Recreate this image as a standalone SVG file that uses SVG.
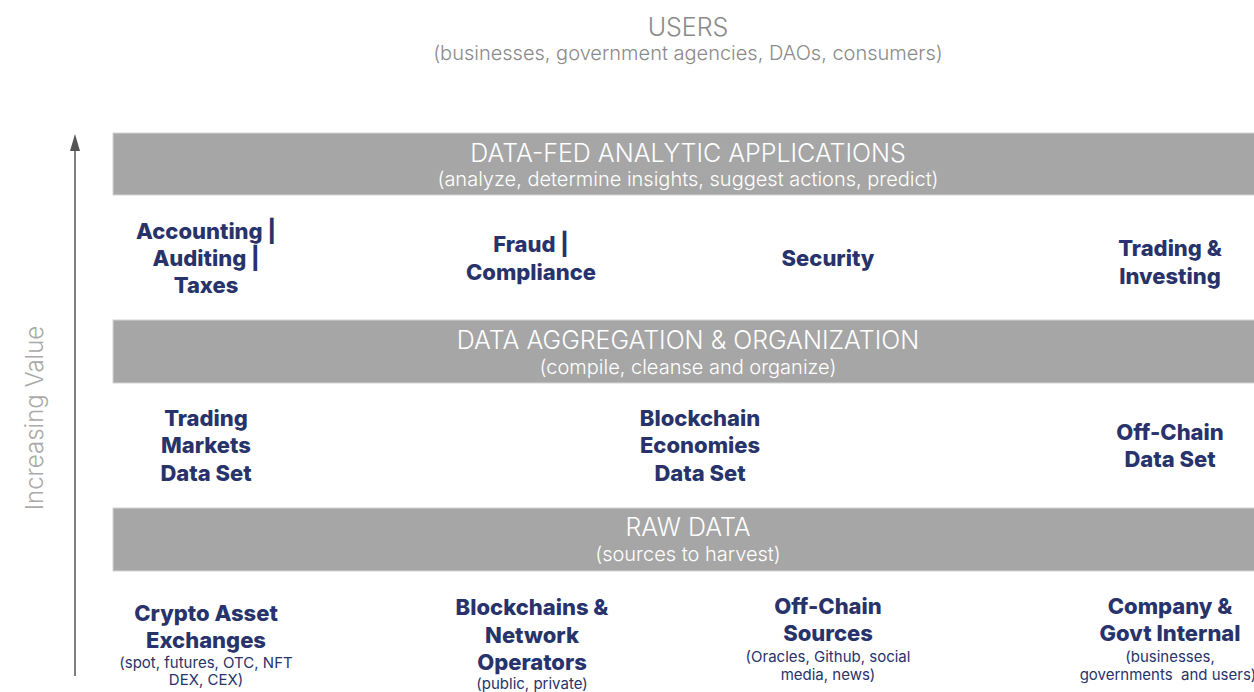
<svg xmlns="http://www.w3.org/2000/svg" width="1254" height="692" viewBox="0 0 1254 692">
<style>
.hd{font-family:Inter,"Liberation Sans",sans-serif;font-weight:300;text-anchor:middle}
.gray{fill:#8a8a8a}
.wt{fill:#ffffff}
.band{fill:#a6a6a6;stroke:#d4d4d4;stroke-width:1}
.nd{font-family:Inter,"Liberation Sans",sans-serif;font-weight:800;font-size:22px;fill:#27336a;text-anchor:middle}
.sm{font-family:Inter,"Liberation Sans",sans-serif;font-weight:400;font-size:15px;fill:#27336a;text-anchor:middle}
</style>
<rect width="1254" height="692" fill="#ffffff"/>
<g id="users">
<text class="hd gray" x="688" y="36" font-size="25">USERS</text>
<text class="hd gray" x="688" y="60" font-size="20">(businesses, government agencies, DAOs, consumers)</text>
</g>
<g id="connectors">
<line x1="75" y1="148" x2="75" y2="676" stroke="#555555" stroke-width="1.5"/>
<polygon points="75,134 70,151 80,151" fill="#555555"/>
</g>
<g id="axis-label">
<text class="hd" fill="#aaaaaa" font-size="24" transform="translate(43,418) rotate(-90)">Increasing Value</text>
</g>
<g id="band-applications">
<rect class="band" x="113" y="133" width="1150" height="62"/>
<text class="hd wt" x="688" y="162" font-size="25">DATA-FED ANALYTIC APPLICATIONS</text>
<text class="hd wt" x="688" y="186" font-size="20">(analyze, determine insights, suggest actions, predict)</text>
</g>
<g id="band-aggregation">
<rect class="band" x="113" y="320" width="1150" height="63"/>
<text class="hd wt" x="688" y="349" font-size="25">DATA AGGREGATION &amp; ORGANIZATION</text>
<text class="hd wt" x="688" y="374" font-size="20">(compile, cleanse and organize)</text>
</g>
<g id="band-raw">
<rect class="band" x="113" y="508" width="1150" height="63"/>
<text class="hd wt" x="688" y="536" font-size="25">RAW DATA</text>
<text class="hd wt" x="688" y="561" font-size="20">(sources to harvest)</text>
</g>
<g id="node-accounting">
<text class="nd" x="206" y="239">Accounting |</text>
<text class="nd" x="206" y="266">Auditing |</text>
<text class="nd" x="206" y="293">Taxes</text>
</g>
<g id="node-fraud">
<text class="nd" x="531" y="252">Fraud |</text>
<text class="nd" x="531" y="280">Compliance</text>
</g>
<g id="node-security">
<text class="nd" x="828" y="266">Security</text>
</g>
<g id="node-trading-investing">
<text class="nd" x="1170" y="256">Trading &amp;</text>
<text class="nd" x="1170" y="284">Investing</text>
</g>
<g id="node-trading-markets">
<text class="nd" x="206" y="426">Trading</text>
<text class="nd" x="206" y="453">Markets</text>
<text class="nd" x="206" y="481">Data Set</text>
</g>
<g id="node-blockchain-economies">
<text class="nd" x="700" y="426">Blockchain</text>
<text class="nd" x="700" y="453">Economies</text>
<text class="nd" x="700" y="481">Data Set</text>
</g>
<g id="node-offchain-data">
<text class="nd" x="1170" y="440">Off-Chain</text>
<text class="nd" x="1170" y="467">Data Set</text>
</g>
<g id="node-crypto-exchanges">
<text class="nd" x="206" y="621">Crypto Asset</text>
<text class="nd" x="206" y="648">Exchanges</text>
<text class="sm" x="206" y="668">(spot, futures, OTC, NFT</text>
<text class="sm" x="206" y="685">DEX, CEX)</text>
</g>
<g id="node-blockchains">
<text class="nd" x="532" y="615">Blockchains &amp;</text>
<text class="nd" x="532" y="643">Network</text>
<text class="nd" x="532" y="670">Operators</text>
<text class="sm" x="532" y="689">(public, private)</text>
</g>
<g id="node-offchain-sources">
<text class="nd" x="828" y="614">Off-Chain</text>
<text class="nd" x="828" y="641">Sources</text>
<text class="sm" x="828" y="662">(Oracles, Github, social</text>
<text class="sm" x="828" y="680">media, news)</text>
</g>
<g id="node-company">
<text class="nd" x="1170" y="614">Company &amp;</text>
<text class="nd" x="1170" y="641">Govt Internal</text>
<text class="sm" x="1170" y="662">(businesses,</text>
<text class="sm" x="1168" y="680" xml:space="preserve">governments  and users)</text>
</g>
</svg>
